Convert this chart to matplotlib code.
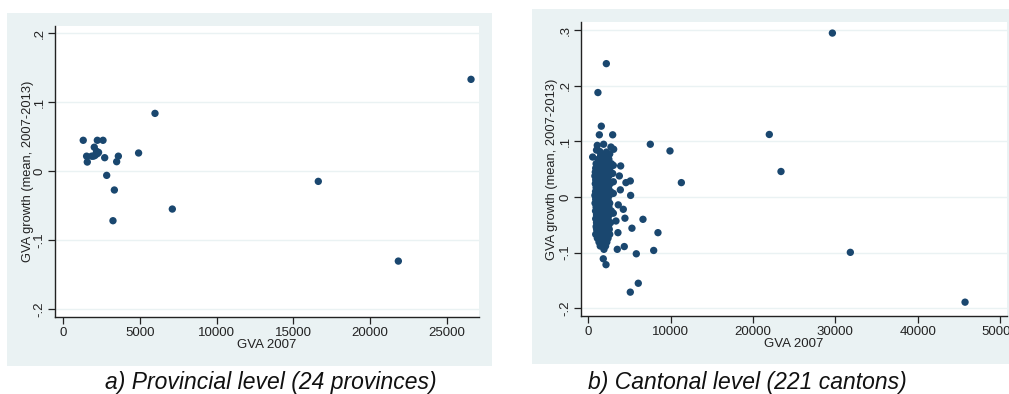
import matplotlib
matplotlib.use("Agg")
import matplotlib.pyplot as plt
from matplotlib.patches import Rectangle
from matplotlib.ticker import FuncFormatter

plt.rcParams["font.family"] = ["Liberation Sans", "DejaVu Sans"]

W, H = 1009, 394
BG = "#eaf2f3"
DOT = "#1a476f"

# ---- data: provincial level (24 provinces) ----
prov_gva = [1300, 2220, 2590, 1520, 1565, 2020, 2170, 2220, 2065, 1850, 1960, 2300,
            2700, 2830, 3480, 3590, 3330, 3240, 4910, 5980, 7110, 16630, 21850, 26590]
prov_growth = [0.045, 0.045, 0.045, 0.022, 0.0135, 0.035, 0.029, 0.0256, 0.023, 0.022, 0.022, 0.0275,
               0.0198, -0.0058, 0.014, 0.022, -0.027, -0.0715, 0.0266, 0.084, -0.0546, -0.0145, -0.130, 0.1333]

# ---- data: cantonal level (221 cantons) ----
canton_outer_gva = [29640, 2190, 1170, 1580, 1340, 2960, 1090, 1860, 7530, 9920,
                    21980, 23400, 11300, 31820, 45750, 5100, 6070, 5830, 7940, 8460,
                    6640, 5300, 3520, 4370, 2150, 1820, 5140, 5100, 4570, 3930,
                    3770, 3890, 4450, 4250, 3640, 3360, 3600, 2550, 3080, 2750,
                    530, 3040, 2960, 3040, 3040, 3040]
canton_outer_growth = [0.295, 0.240, 0.188, 0.1275, 0.112, 0.112, 0.093, 0.095, 0.095, 0.083,
                       0.1126, 0.046, 0.026, -0.0994, -0.189, -0.171, -0.155, -0.102, -0.096, -0.064,
                       -0.040, -0.056, -0.094, -0.089, -0.1216, -0.111, 0.003, 0.029, 0.026, 0.056,
                       0.038, 0.013, -0.038, -0.022, -0.014, -0.043, -0.064, -0.058, 0.086, 0.090,
                       0.072, 0.057, 0.0425, 0.0275, 0.0066, -0.029]

canton_core_gva = [
    1900, 2300, 1500,
    1200, 1700, 2100, 2500,
    950, 1350, 1650, 2000, 2400, 2800,
    900, 1150, 1450, 1800, 2150, 2600,
    850, 1050, 1300, 1600, 1900, 2250, 2700,
    800, 1000, 1250, 1550, 1850, 2200, 2500,
    900, 1100, 1400, 1700, 2000, 2350,
    850, 1050, 1300, 1600, 1950, 2300, 2650,
    950, 1200, 1500, 1800, 2100, 2450,
    880, 1100, 1400, 1700, 2000, 2300, 2700,
    800, 1000, 1300, 1600, 1900, 2200, 2550,
    900, 1150, 1450, 1750, 2050, 2400,
    820, 1050, 1350, 1650, 1950, 2250, 2600,
    950, 1250, 1550, 1850, 2150, 2500,
    880, 1100, 1400, 1700, 2000, 2350, 2800,
    1000, 1300, 1600, 1900, 2200, 2550,
    900, 1150, 1450, 1750, 2050, 2400,
    1000, 1300, 1600, 1900, 2250, 2700,
    950, 1200, 1500, 1800, 2100, 2450,
    1050, 1350, 1650, 1950, 2300,
    900, 1150, 1450, 1750, 2100, 2600,
    1100, 1400, 1700, 2000, 2400,
    1300, 1600, 1900, 2250,
    1450, 1750, 2100,
    1900,
    1250, 1750, 2250, 1150, 1750, 2350, 1000, 1500, 2100, 1050, 1650, 2250,
    950, 1450, 2050, 1000, 1500, 2100, 1050, 1550, 2150, 1100, 1700, 2300,
    1000, 1600, 2200, 1200, 1800, 2300, 1550, 2000, 1400, 2600, 1000, 2200,
]
canton_core_growth = [
    0.075, 0.075, 0.075,
    0.068, 0.068, 0.068, 0.068,
    0.060, 0.060, 0.060, 0.060, 0.060, 0.060,
    0.052, 0.052, 0.052, 0.052, 0.052, 0.052,
    0.045, 0.045, 0.045, 0.045, 0.045, 0.045, 0.045,
    0.038, 0.038, 0.038, 0.038, 0.038, 0.038, 0.038,
    0.031, 0.031, 0.031, 0.031, 0.031, 0.031,
    0.024, 0.024, 0.024, 0.024, 0.024, 0.024, 0.024,
    0.017, 0.017, 0.017, 0.017, 0.017, 0.017,
    0.010, 0.010, 0.010, 0.010, 0.010, 0.010, 0.010,
    0.003, 0.003, 0.003, 0.003, 0.003, 0.003, 0.003,
    -0.004, -0.004, -0.004, -0.004, -0.004, -0.004,
    -0.011, -0.011, -0.011, -0.011, -0.011, -0.011, -0.011,
    -0.018, -0.018, -0.018, -0.018, -0.018, -0.018,
    -0.025, -0.025, -0.025, -0.025, -0.025, -0.025, -0.025,
    -0.032, -0.032, -0.032, -0.032, -0.032, -0.032,
    -0.039, -0.039, -0.039, -0.039, -0.039, -0.039,
    -0.046, -0.046, -0.046, -0.046, -0.046, -0.046,
    -0.053, -0.053, -0.053, -0.053, -0.053, -0.053,
    -0.060, -0.060, -0.060, -0.060, -0.060,
    -0.067, -0.067, -0.067, -0.067, -0.067, -0.067,
    -0.074, -0.074, -0.074, -0.074, -0.074,
    -0.081, -0.081, -0.081, -0.081,
    -0.088, -0.088, -0.088,
    -0.094,
    0.0565, 0.0565, 0.0565, 0.0415, 0.0415, 0.0415, 0.0275, 0.0275, 0.0275, 0.0135, 0.0135, 0.0135,
    -0.0005, -0.0005, -0.0005, -0.0145, -0.0145, -0.0145, -0.0285, -0.0285, -0.0285, -0.0425, -0.0425, -0.0425,
    -0.0565, -0.0565, -0.0565, -0.0705, -0.0705, -0.0705, -0.0845, -0.0845, 0.082, 0.0775, 0.0845, 0.081,
]

canton_gva = canton_outer_gva + canton_core_gva
canton_growth = canton_outer_growth + canton_core_growth


def px_rect(x0, y0, x1, y1):
    """Pixel box (top-left origin) -> figure fraction [l, b, w, h]."""
    return [x0 / W, 1 - y1 / H, (x1 - x0) / W, (y1 - y0) / H]


def stata_fmt(v, pos):
    if abs(v) < 1e-9:
        return "0"
    s = "%g" % v
    return s.replace("0.", ".")


def panel(fig, bg_box, ax_box, x, y, xlim, ylim, xticks, yticks, ylab_x, caption, cap_x):
    l, b, w, h = px_rect(*bg_box)
    fig.add_artist(Rectangle((l, b), w, h, transform=fig.transFigure,
                             facecolor=BG, edgecolor="none", zorder=0))
    ax = fig.add_axes(px_rect(*ax_box))
    ax.set_facecolor("white")
    ax.scatter(x, y, s=28, color=DOT, edgecolors="none", zorder=3)
    ax.set_xlim(*xlim)
    ax.set_ylim(*ylim)
    ax.set_xticks(xticks)
    ax.set_yticks(yticks)
    ax.yaxis.set_major_formatter(FuncFormatter(stata_fmt))
    for yt in yticks:
        ax.axhline(yt, color=BG, linewidth=1.0, zorder=1)
    for side in ("top", "right"):
        ax.spines[side].set_visible(False)
    for side in ("left", "bottom"):
        ax.spines[side].set_color("#222222")
        ax.spines[side].set_linewidth(1.0)
    ax.tick_params(axis="both", direction="out", length=5, width=0.9,
                   colors="#222222", labelsize=9.5, labelcolor="#222222", pad=2)
    ax.tick_params(axis="y", labelrotation=90)
    for t in ax.get_yticklabels():
        t.set_va("center")
    ax.set_xlabel("GVA 2007", fontsize=9.5, color="#222222")
    ax.xaxis.set_label_coords(0.5, -0.096)
    ax.xaxis.label.set_va("center")
    ax.set_ylabel("GVA growth (mean, 2007-2013)", fontsize=9.3, color="#222222")
    ax.yaxis.set_label_coords(ylab_x, 0.5)
    ax.yaxis.label.set_va("center")
    fig.text(cap_x / W, 1 - 382 / H, caption, fontsize=16.5, style="italic",
             ha="center", va="center", color="#111111")
    return ax


fig = plt.figure(figsize=(W / 100, H / 100), dpi=100)

panel(fig, (7, 13, 492, 366), (55, 26, 479, 317), prov_gva, prov_growth,
      (-541, 27110), (-0.211, 0.2106),
      [0, 5000, 10000, 15000, 20000, 25000], [-0.2, -0.1, 0, 0.1, 0.2],
      -0.064, "a) Provincial level (24 provinces)", 271)

panel(fig, (532, 9, 1015, 364), (581, 22, 1007, 316), canton_gva, canton_growth,
      (-886, 50844), (-0.2139, 0.3149),
      [0, 10000, 20000, 30000, 40000, 50000], [-0.2, -0.1, 0, 0.1, 0.2, 0.3],
      -0.068, "b) Cantonal level (221 cantons)", 747)

fig.savefig("out.png", dpi=100)
